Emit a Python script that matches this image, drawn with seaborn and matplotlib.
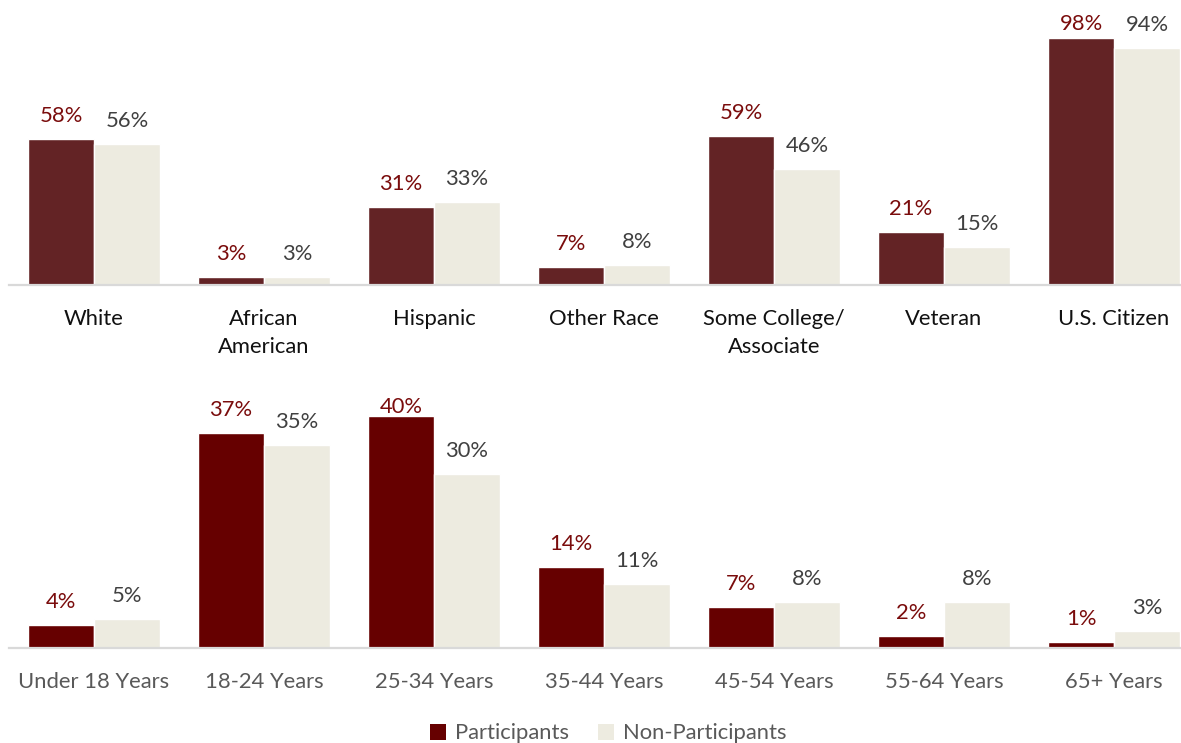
import matplotlib
matplotlib.use("Agg")
import matplotlib.pyplot as plt
from matplotlib.patches import Patch
import seaborn as sns
import pandas as pd

# ---- data ----
top_cats = ["White", "African\nAmerican", "Hispanic", "Other Race",
            "Some College/\nAssociate", "Veteran", "U.S. Citizen"]
top_part = [58, 3, 31, 7, 59, 21, 98]
top_non = [56, 3, 33, 8, 46, 15, 94]

age_cats = ["Under 18 Years", "18-24 Years", "25-34 Years", "35-44 Years",
            "45-54 Years", "55-64 Years", "65+ Years"]
age_part = [4, 37, 40, 14, 7, 2, 1]
age_non = [5, 35, 30, 11, 8, 8, 3]

groups = ["Participants", "Non-Participants"]

# ---- style ----
sns.set_theme(style="white")
plt.rcParams['font.family'] = ['Lato', 'DejaVu Sans']

W, H = 1181, 743
fig = plt.figure(figsize=(W / 100, H / 100), dpi=100)

NON_COL = "#EDEBE0"
PART_LBL = "#7A0C0C"
NON_LBL = "#404040"
FS = 15.8

def make_df(cats, part, non):
    rows = []
    for c, p, n in zip(cats, part, non):
        rows.append((c, groups[0], p))
        rows.append((c, groups[1], n))
    return pd.DataFrame(rows, columns=["cat", "group", "val"])

def panel(rect, cats, part, non, part_col, ymax, tick_col):
    ax = fig.add_axes(rect)
    df = make_df(cats, part, non)
    sns.barplot(data=df, x="cat", y="val", hue="group", order=cats,
                hue_order=groups, palette=[part_col, NON_COL],
                width=0.776, gap=0, saturation=1, legend=False, ax=ax,
                errorbar=None)
    ax.set_xlim(-0.5, len(cats) - 0.5)
    ax.set_ylim(0, ymax)
    ax.set_xlabel("")
    ax.set_ylabel("")
    ax.set_yticks([])
    for s in ["top", "left", "right"]:
        ax.spines[s].set_visible(False)
    ax.spines["bottom"].set_color("#D9D9D9")
    ax.spines["bottom"].set_linewidth(1.6)
    ax.tick_params(axis="x", length=0, pad=17, labelsize=FS,
                   labelcolor=tick_col)
    ax.set_xticks(range(len(cats)))
    ax.set_xticklabels(cats, linespacing=1.55, va="top")

    ax_h_px = rect[3] * H
    ppx = ax_h_px / ymax
    off = 17 / ppx
    cap = 15 / ppx
    for cont, col in zip(ax.containers, [PART_LBL, NON_LBL]):
        for bar in cont:
            v = bar.get_height()
            y = min(v + off, ymax - cap)
            ax.text(bar.get_x() + bar.get_width() / 2, y, f"{v:.0f}%",
                    ha="center", va="baseline", fontsize=FS, color=col)
    return ax

left = 9 / W
width = 1190 / W
panel([left, (H - 285) / H, width, 270 / H], top_cats, top_part, top_non,
      "#632325", 270 / 2.52, "#111111")
panel([left, (H - 648) / H, width, 250 / H], age_cats, age_part, age_non,
      "#660000", 250 / 5.8, "#595959")

handles = [Patch(facecolor="#660000", edgecolor="none"),
           Patch(facecolor=NON_COL, edgecolor="none")]
fig.legend(handles, groups, loc="center", bbox_to_anchor=(0.515, 0.013),
           ncol=2, frameon=False, fontsize=FS, labelcolor="#595959",
           handlelength=0.75, handleheight=0.75, handletextpad=0.4,
           columnspacing=1.3, borderaxespad=0)

fig.savefig("out.png", dpi=100)
